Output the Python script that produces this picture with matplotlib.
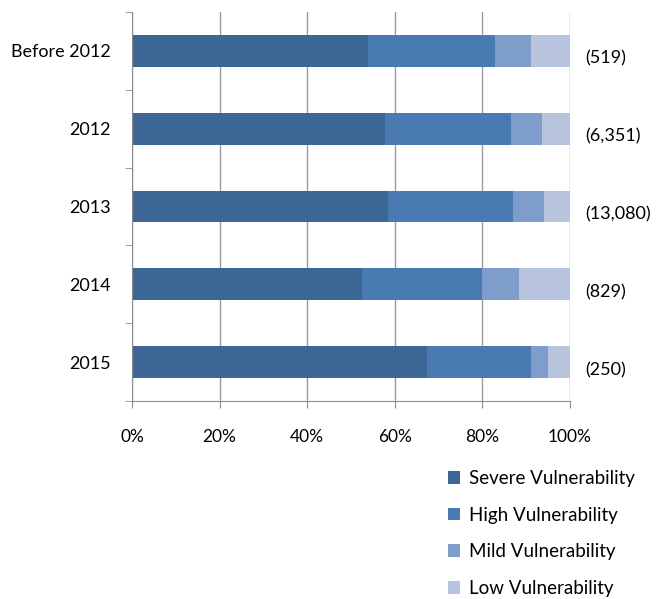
import matplotlib.pyplot as plt
import numpy as np
from matplotlib.patches import Patch
from matplotlib.transforms import blended_transform_factory

plt.rcParams["font.family"] = ["Lato", "DejaVu Sans"]

periods = ["Before 2012", "2012", "2013", "2014", "2015"]
counts = ["(519)", "(6,351)", "(13,080)", "(829)", "(250)"]
severe = [53.9, 57.8, 58.4, 52.5, 67.3]
high = [28.9, 28.7, 28.5, 27.5, 23.8]
mild = [8.3, 7.1, 7.1, 8.3, 3.8]
low = [8.9, 6.4, 6.0, 11.7, 5.1]

series = [
    ("Severe Vulnerability", severe, "#3c6694"),
    ("High Vulnerability", high, "#4a7ab2"),
    ("Mild Vulnerability", mild, "#7f9dca"),
    ("Low Vulnerability", low, "#b8c4de"),
]

fig = plt.figure(figsize=(6.69, 5.99), dpi=100)
ax = fig.add_axes([132 / 669, 1 - 401 / 599, 438 / 669, 389 / 599])

y = np.arange(len(periods))
left = np.zeros(len(periods))
for name, vals, color in series:
    vals = np.asarray(vals, dtype=float)
    ax.barh(y, vals, left=left, height=0.41, color=color, label=name, zorder=2)
    left += vals

ax.set_xlim(0, 100)
ax.set_ylim(len(periods) - 0.5, -0.5)
ax.set_xticks(np.arange(0, 101, 20))
ax.set_xticklabels([f"{v}%" for v in range(0, 101, 20)])
ax.set_yticks(y)
ax.set_yticklabels(periods)
ax.set_yticks(np.arange(-0.5, len(periods)), minor=True)
ax.tick_params(axis="y", which="major", length=0, pad=15, labelsize=13)
ax.tick_params(axis="y", which="minor", length=5, color="#8c8c8c")
ax.tick_params(axis="x", length=5, color="#8c8c8c", labelsize=12.5, pad=15)
ax.grid(axis="x", color="#9a9a9a", lw=1, zorder=0)
ax.set_axisbelow(True)
for side in ("top", "right"):
    ax.spines[side].set_visible(False)
for side in ("left", "bottom"):
    ax.spines[side].set_color("#8c8c8c")

trans = blended_transform_factory(ax.transAxes, ax.transData)
for yi, txt in zip(y, counts):
    ax.text(1.035, yi + 0.1, txt, transform=trans, ha="left", va="center", fontsize=13)

handles = [Patch(facecolor=c, label=n) for n, _, c in series]
fig.legend(handles=handles, loc="upper left", bbox_to_anchor=(431 / 669, 1 - 453 / 599),
           frameon=False, fontsize=13.5, handlelength=0.65, handleheight=0.65,
           handletextpad=0.5, labelspacing=1.05)

fig.savefig("out.png", dpi=100)
